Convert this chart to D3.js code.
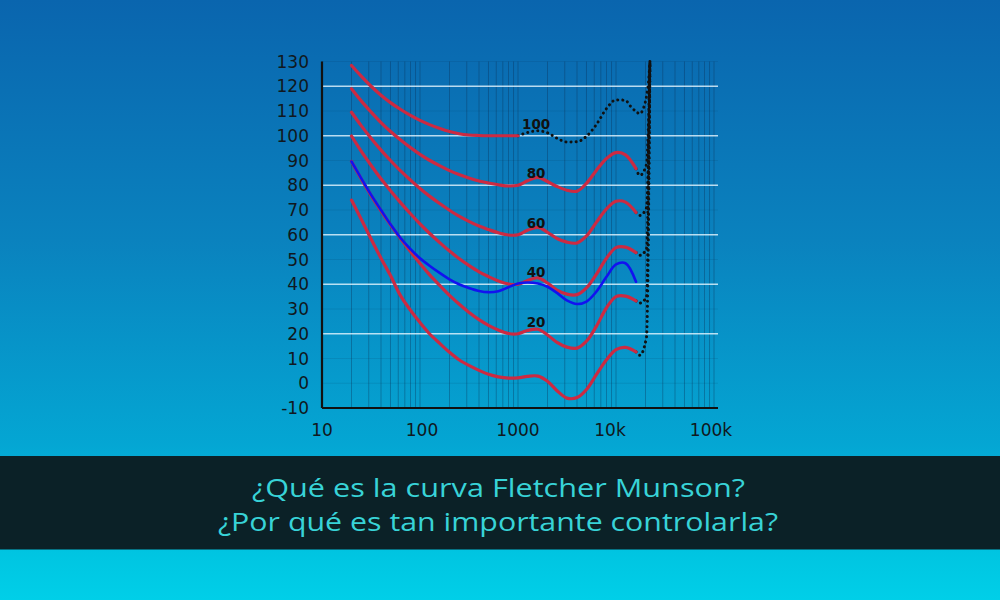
<!DOCTYPE html>
<html>
<head>
<meta charset="utf-8">
<script src="https://cdn.jsdelivr.net/npm/d3@7"></script>
<style>
  html, body { margin: 0; padding: 0; background: #0a66af; }
  svg { display: block; }
</style>
</head>
<body>
<svg id="chart" width="1000" height="600"></svg>
<script>
// ---------------- DATA ----------------
const freqs = [20,25,31.5,40,50,63,80,100,125,160,200,250,315,400,500,630,800,1000,1250,1600,2000,2500,3150,4000,5000,6300,8000,10000,12500,16000];

const phon0   = [74.0,66.5,58.5,50.5,43.5,35.5,29.5,24.5,20.0,16.0,12.5,9.5,7.2,5.2,3.6,2.6,2.1,2.2,2.8,2.9,0.8,-3.0,-6.0,-5.8,-2.5,3.5,9.5,13.6,14.5,12.7];
const phon20  = [89.6,82.7,76.0,69.6,64.0,58.6,53.2,48.4,43.9,39.4,35.5,32.0,28.7,25.7,23.4,21.5,20.1,20.0,21.3,21.8,19.5,16.5,14.6,14.2,17.0,23.0,30.5,35.0,35.2,33.3];
const phon40  = [99.9,93.9,88.2,82.6,77.8,73.1,68.5,64.4,60.6,56.7,53.4,50.4,47.6,45.0,43.1,41.3,40.1,40.0,41.5,42.6,40.5,37.6,36.0,35.8,38.5,44.0,50.5,54.8,55.0,52.8];
const phon60  = [109.5,104.2,99.1,94.2,90.0,85.9,82.1,78.7,75.6,72.5,69.9,67.5,65.4,63.5,62.1,60.8,59.9,60.0,61.8,63.0,61.0,58.5,57.0,56.7,59.5,65.0,70.5,73.5,73.2,69.0];
const phon80  = [119.0,114.2,109.7,105.3,101.7,98.4,95.2,92.5,90.1,87.8,85.9,84.3,82.9,81.7,80.9,80.2,79.7,80.0,81.8,83.2,81.5,79.5,78.0,77.6,80.8,86.0,90.8,93.2,92.3,86.7];
const freqs100 = [20,25,31.5,40,50,63,80,100,125,160,200,250,315,400,500,630,800,1000];
const phon100 = [128.4,124.2,120.1,116.4,113.4,110.7,108.2,106.2,104.5,102.9,101.7,100.8,100.3,100.1,100.0,100.0,100.0,100.0];

// original 40-phon curve (blue)
const blue40 = [89.6,83.0,76.3,70.0,64.2,58.8,54.2,50.5,47.5,44.5,42.0,40.0,38.5,37.3,36.8,37.2,38.8,40.3,40.7,40.3,39.0,36.5,33.5,32.0,33.0,37.0,43.0,48.0,48.5,41.0];

// dotted extrapolations
const dotFreq100 = [1000,1250,1600,2000,2500,3150,4000,5000,6300,8000,10000,12500,14000,16000,17500,19000,20500,21500,22200];
const dot100     = [100,101.3,102,101.2,99,97.5,97.6,99.8,104.5,111,114.5,114.3,112,109.8,108.9,111,116,122,130];
const dotFreqEnd = [16000,17500,20500,22200];
const dot80 = [86.7,84.0,88.5,130];
const dot60 = [69.0,67.8,71.0,130];
const dot40 = [52.8,51.7,54.4,130];
const dot20 = [33.3,32.4,35.0,130];
const dot0  = [12.7,11.3,18.8,130];

const curveLabels = ["100","80","60","40","20"];
const labelLevels = [100,80,60,40,20];
const labelFreq = 1530;

const yTicks = [-10,0,10,20,30,40,50,60,70,80,90,100,110,120,130];
const xTickValues = [10,100,1000,10000,100000];
const xTickLabels = ["10","100","1000","10k","100k"];
const whiteGrid = [20,40,60,80,100,120];

const titleLines = ["¿Qué es la curva Fletcher Munson?","¿Por qué es tan importante controlarla?"];

// ---------------- DRAW ----------------
(function () {
const svg = d3.select("#chart");
const defs = svg.append("defs");
const bg = defs.append("linearGradient").attr("id","bg").attr("x1",0).attr("y1",0).attr("x2",0).attr("y2",1);
[["0%","#0a65ae"],["40%","#0a82be"],["74%","#04a6d3"],["93%","#00c6e2"],["100%","#00cfe8"]]
  .forEach(([o,c]) => bg.append("stop").attr("offset",o).attr("stop-color",c));
svg.append("rect").attr("width",1000).attr("height",600).attr("fill","url(#bg)");

const x = d3.scaleLog().domain([10,100000]).range([322,714]);
const y = d3.scaleLinear().domain([-10,130]).range([408,61.5]);
const pLeft = 322, pRight = 718, pTop = 61.5, pBottom = 408;

// vertical log grid
const vgrid = [];
for (let d = 10; d <= 10000; d *= 10) for (let m = 1; m <= 9; m++) vgrid.push(d*m);
vgrid.push(100000);
svg.append("g").selectAll("line").data(vgrid).join("line")
  .attr("x1", d => x(d)).attr("x2", d => x(d))
  .attr("y1", pTop).attr("y2", pBottom)
  .attr("stroke", "#0b2f52").attr("stroke-opacity", 0.35).attr("stroke-width", 1);

// faint dark horizontal grid
svg.append("g").selectAll("line").data(yTicks.filter(t => !whiteGrid.includes(t))).join("line")
  .attr("x1", pLeft).attr("x2", pRight)
  .attr("y1", d => y(d)).attr("y2", d => y(d))
  .attr("stroke", "#0b2f52").attr("stroke-opacity", 0.12).attr("stroke-width", 1);

// white horizontal grid
svg.append("g").selectAll("line").data(whiteGrid).join("line")
  .attr("x1", pLeft).attr("x2", pRight)
  .attr("y1", d => y(d)).attr("y2", d => y(d))
  .attr("stroke", "#e6f6ff").attr("stroke-opacity", 0.8).attr("stroke-width", 1.5);

// axes
svg.append("line").attr("x1", pLeft).attr("x2", pLeft).attr("y1", pTop).attr("y2", pBottom)
  .attr("stroke", "#111").attr("stroke-width", 2.2);
svg.append("line").attr("x1", pLeft).attr("x2", pRight).attr("y1", pBottom).attr("y2", pBottom)
  .attr("stroke", "#111").attr("stroke-width", 2.2);

// tick labels
svg.append("g").selectAll("text").data(yTicks).join("text")
  .attr("x", 309).attr("y", d => y(d)).attr("dy", "0.36em")
  .attr("text-anchor", "end")
  .attr("font-family", "DejaVu Sans").attr("font-size", 17).attr("fill", "#101820")
  .text(d => d);
const xLabelShift = {10:0, 100:2, 1000:0, 10000:-6, 100000:-3};
svg.append("g").selectAll("text").data(xTickValues).join("text")
  .attr("x", d => x(d) + xLabelShift[d]).attr("y", 436)
  .attr("text-anchor", "middle")
  .attr("font-family", "DejaVu Sans").attr("font-size", 17).attr("fill", "#101820")
  .text((d,i) => xTickLabels[i]);

// curves
const smooth = d3.line().x(d => x(d[0])).y(d => y(d[1])).curve(d3.curveCatmullRom.alpha(0.5));
const mono = d3.line().x(d => x(d[0])).y(d => y(d[1])).curve(d3.curveMonotoneX);
const zip = (fs, vs) => fs.map((f,i) => [f, vs[i]]);

const g = svg.append("g").attr("fill","none");
const dotted = [zip(dotFreq100, dot100), zip(dotFreqEnd, dot80), zip(dotFreqEnd, dot60),
                zip(dotFreqEnd, dot40), zip(dotFreqEnd, dot20), zip(dotFreqEnd, dot0)];
g.selectAll("path.dot").data(dotted).join("path").attr("class","dot")
  .attr("d", mono).attr("stroke", "#111").attr("stroke-width", 3)
  .attr("stroke-linecap", "round").attr("stroke-dasharray", "0.1 5");

const reds = [zip(freqs100, phon100), zip(freqs, phon80), zip(freqs, phon60),
              zip(freqs, phon40), zip(freqs, phon20), zip(freqs, phon0)];
g.selectAll("path.red").data(reds).join("path").attr("class","red")
  .attr("d", smooth).attr("stroke", "#cc2a42").attr("stroke-width", 3.2)
  .attr("stroke-linecap", "round");

g.append("path").datum(zip(freqs, blue40))
  .attr("d", smooth).attr("stroke", "#1212f0").attr("stroke-width", 2.6)
  .attr("stroke-linecap", "round");

// curve labels
svg.append("g").selectAll("text").data(labelLevels).join("text")
  .attr("x", x(labelFreq)).attr("y", d => y(d + 4.8)).attr("dy", "0.36em")
  .attr("text-anchor", "middle")
  .attr("font-family", "DejaVu Sans").attr("font-weight", "bold").attr("font-size", 13.5)
  .attr("fill", "#111")
  .text((d,i) => curveLabels[i]);

// banner
svg.append("rect").attr("x", 0).attr("y", 456).attr("width", 1000).attr("height", 93.5)
  .attr("fill", "#0b2127");
const tl = [[498.5, 497, 493],[498, 531, 560]];
svg.append("g").selectAll("text").data(titleLines).join("text")
  .attr("x", (d,i) => tl[i][0]).attr("y", (d,i) => tl[i][1])
  .attr("text-anchor", "middle")
  .attr("font-family", "Open Sans").attr("font-size", 26).attr("fill", "#38d3d7")
  .attr("textLength", (d,i) => tl[i][2]).attr("lengthAdjust", "spacingAndGlyphs")
  .text(d => d);
})();
</script>
</body>
</html>
